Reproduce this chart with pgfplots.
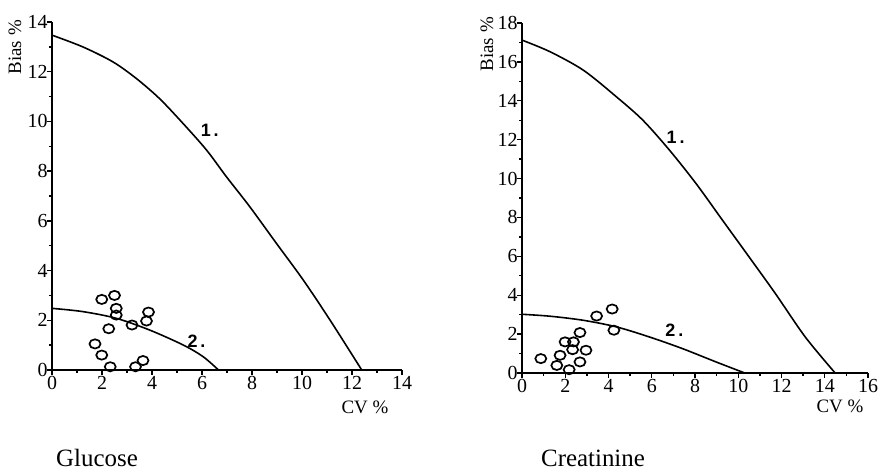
\documentclass[border=0pt]{standalone}
\usepackage{fontspec}
\setmainfont{Liberation Serif}
\newfontfamily\sansf{Liberation Sans}
\usepackage{pgfplots}
\pgfplotsset{compat=1.18}

\pgfplotsset{
  panel/.style={
    scale only axis,
    axis lines=left, axis line style={line width=2.2pt, -},
    clip=false,
    xmin=0, ymin=0,
    minor tick num=1,
    tick align=outside,
    major tick length=5bp, minor tick length=3bp,
    tick style={line width=1.3pt, black},
    ticklabel style={font=\fontsize{20}{20}\selectfont},
    /pgf/number format/assume math mode=true,
    xticklabel style={yshift=2bp},
    yticklabel style={xshift=4bp},
  },
  curve/.style={black, line width=1.6pt, mark=none, smooth, tension=0.5},
  pts/.style={only marks, mark=o, mark size=4.6bp,
    mark options={line width=1.7pt, xscale=1.2, black}},
}
\tikzset{lab/.style={font=\sansf\bfseries\fontsize{18}{18}\selectfont}}

\begin{document}
\begin{tikzpicture}
\path[use as bounding box] (0,0) rectangle (882bp,476bp);

% Glucose
\begin{axis}[panel, at={(52bp,106bp)}, anchor=south west, width=350bp, height=348bp,
  xmax=14, ymax=14, xtick={0,2,...,14}, ytick={0,2,...,14}]
\addplot[curve] coordinates {
  (0,13.47) (1.23,13.0) (2.43,12.4) (3.37,11.73) (4.3,10.92) (5.24,9.92)
  (6.18,8.85) (6.98,7.77) (7.91,6.57) (8.98,5.09) (10.05,3.62) (11.12,2.01)
  (12.39,0) };
\addplot[curve] coordinates {
  (0,2.48) (1.23,2.35) (2.57,2.08) (3.9,1.61) (5.24,1.01) (6.04,0.54) (6.66,0) };
\addplot[pts] coordinates {
  (1.99,2.84) (2.5,3.0) (2.57,2.48) (2.57,2.21) (2.27,1.66) (3.2,1.81)
  (3.86,2.33) (3.78,1.97) (1.72,1.05) (1.99,0.6) (2.33,0.13) (3.34,0.13)
  (3.64,0.38) };
\node[lab] at (axis cs:6.31,9.65) {1\,.};
\node[lab] at (axis cs:5.78,1.14) {2\,.};
\node[rotate=90, anchor=east, inner sep=0pt, font=\fontsize{19}{19}\selectfont]
  at ([xshift=-37bp, yshift=2bp]rel axis cs:0,1) {Bias \%};
\node[anchor=base, inner sep=0pt, font=\fontsize{19}{19}\selectfont]
  at ([xshift=-37bp, yshift=-43bp]rel axis cs:1,0) {CV \%};
\end{axis}

% Creatinine
\begin{axis}[panel, at={(522bp,103bp)}, anchor=south west, width=346bp, height=350bp,
  xmax=16, ymax=18, xtick={0,2,...,16}, ytick={0,2,...,18}]
\addplot[curve] coordinates {
  (0,17.12) (1.3,16.52) (2.84,15.57) (4.37,14.2) (5.59,13.0) (6.82,11.46)
  (8.05,9.74) (9.27,7.86) (10.5,5.97) (11.72,4.08) (13.1,1.85) (14.48,0) };
\addplot[curve] coordinates {
  (0,3.02) (1.3,2.92) (2.84,2.71) (4.37,2.37) (5.9,1.85) (7.43,1.25)
  (8.97,0.57) (10.3,0) };
\addplot[pts] coordinates {
  (0.87,0.74) (1.61,0.39) (1.76,0.91) (2.18,0.17) (1.99,1.6) (2.38,1.6)
  (2.34,1.2) (2.68,2.08) (2.96,1.17) (2.68,0.57) (3.45,2.93) (4.17,3.29)
  (4.25,2.2) };
\node[lab] at (axis cs:7.1,12.14) {1\,.};
\node[lab] at (axis cs:7.05,2.2) {2\,.};
\node[rotate=90, anchor=east, inner sep=0pt, font=\fontsize{19}{19}\selectfont]
  at ([xshift=-35bp, yshift=6bp]rel axis cs:0,1) {Bias \%};
\node[anchor=base, inner sep=0pt, font=\fontsize{19}{19}\selectfont]
  at ([xshift=-28bp, yshift=-40bp]rel axis cs:1,0) {CV \%};
\end{axis}

\node[anchor=base, inner sep=0pt, font=\fontsize{25}{25}\selectfont] at (97bp,10bp) {Glucose};
\node[anchor=base, inner sep=0pt, font=\fontsize{25}{25}\selectfont] at (593bp,10bp) {Creatinine};
\end{tikzpicture}
\end{document}
